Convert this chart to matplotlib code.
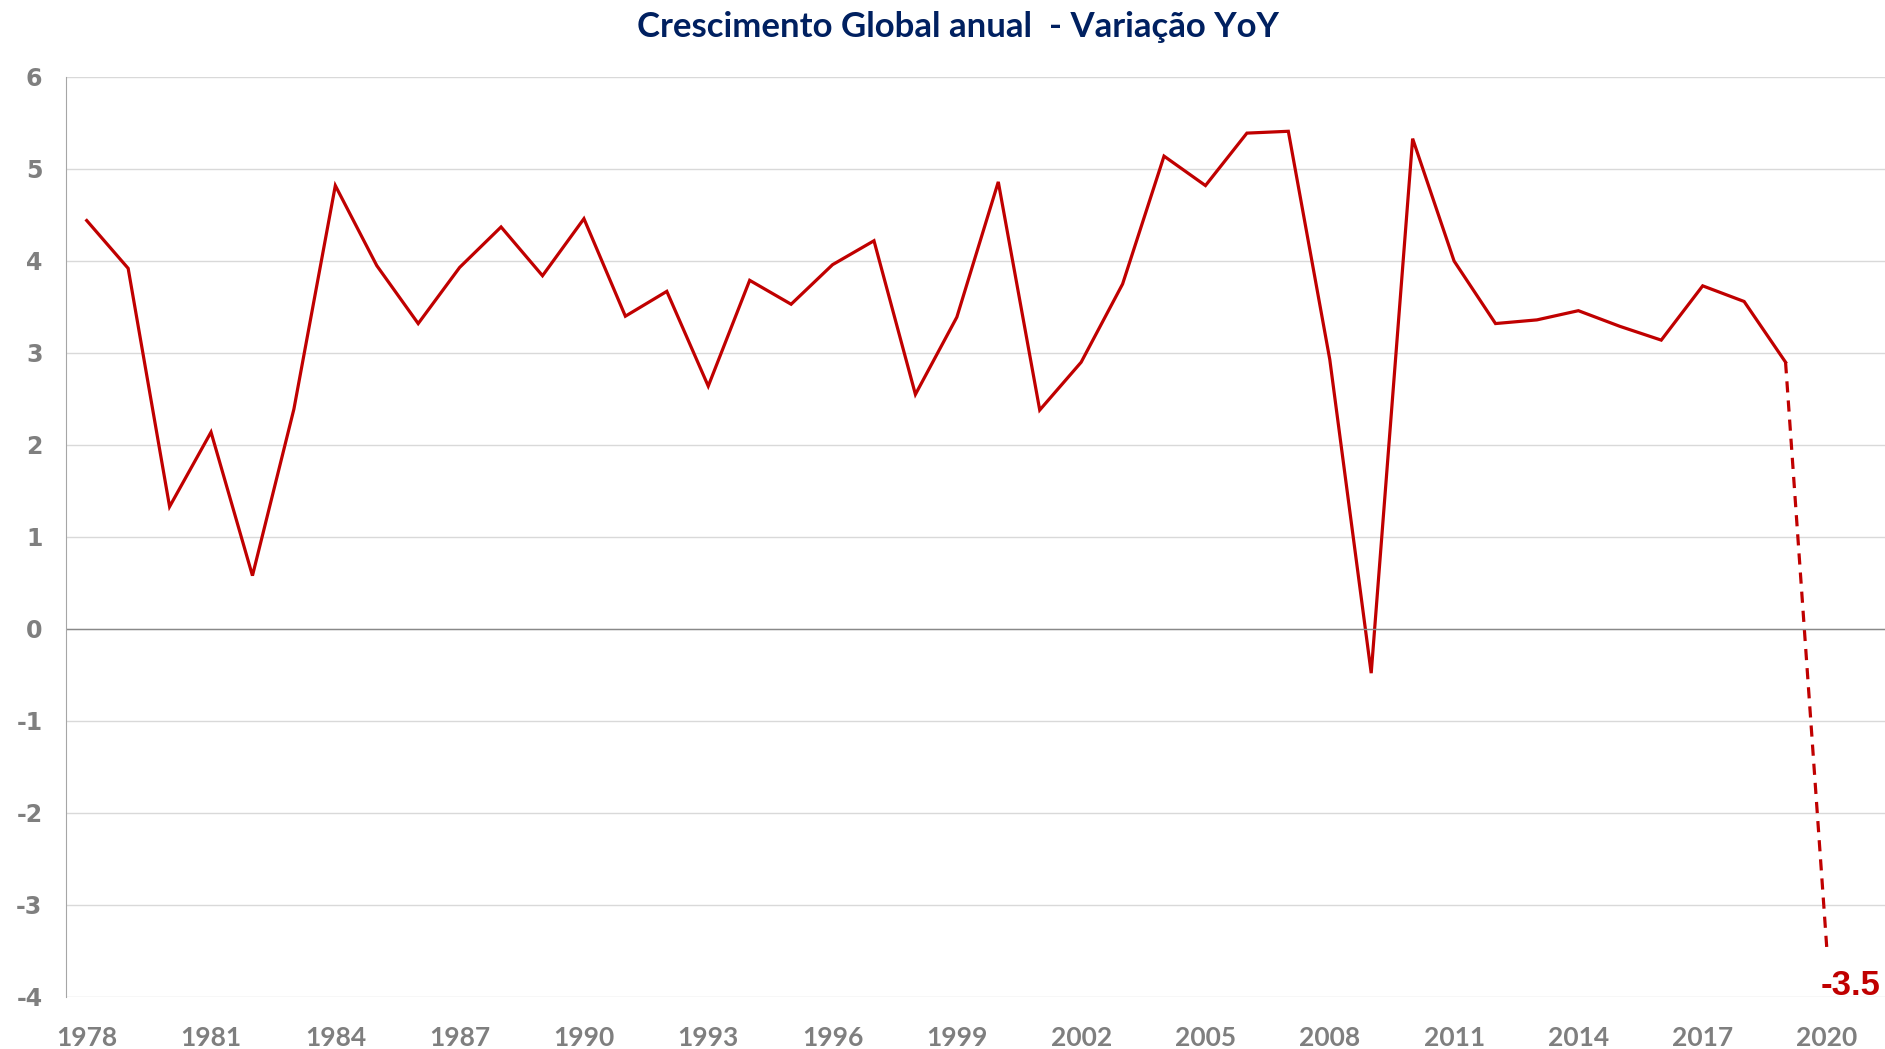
import matplotlib
matplotlib.use("Agg")
import matplotlib.pyplot as plt
import numpy as np

plt.rcParams['axes.unicode_minus'] = False

# dados (crescimento global anual, %)
anos = list(range(1978, 2020))
cresc = [4.44, 3.92, 1.33, 2.14, 0.58, 2.39, 4.82, 3.95, 3.32, 3.93,
         4.37, 3.84, 4.46, 3.40, 3.67, 2.64, 3.79, 3.53, 3.96, 4.22,
         2.55, 3.39, 4.86, 2.38, 2.90, 3.75, 5.14, 4.82, 5.39, 5.41,
         2.93, -0.48, 5.33, 4.00, 3.32, 3.36, 3.46, 3.29, 3.14, 3.73,
         3.56, 2.90]
proj_anos = [2019, 2020]
proj_vals = [2.90, -3.5]
xticks = list(range(1978, 2021, 3))
yticks = list(range(-4, 7))

vermelho = '#c00000'
cinza = '#7f7f7f'

fig = plt.figure(figsize=(18.85, 10.49), dpi=100)
ax = fig.add_axes([66/1885, 1-997/1049, 1-66/1885, 920/1049])

ax.plot(anos, cresc, color=vermelho, lw=2.3, solid_joinstyle='miter')
ax.plot(proj_anos, proj_vals, color=vermelho, lw=2.3, ls=(0, (3.5, 2.5)))

ax.set_xlim(1977.5, 2021.4)
ax.set_ylim(-4, 6)
ax.set_yticks(yticks)
ax.set_xticks(xticks)
ax.grid(axis='y', color='#d9d9d9', lw=1.0)
ax.axhline(0, color='#898989', lw=1.0)
ax.set_axisbelow(True)

for s in ['top', 'right', 'bottom']:
    ax.spines[s].set_visible(False)
ax.spines['left'].set_color('#a6a6a6')
ax.tick_params(length=0)
ax.tick_params(axis='y', pad=17)
ax.tick_params(axis='x', pad=21)

for t in ax.get_yticklabels():
    t.set_fontfamily('DejaVu Sans')
    t.set_fontweight('bold')
    t.set_fontsize(17)
    t.set_color(cinza)
for t in ax.get_xticklabels():
    t.set_fontfamily(['Liberation Sans Narrow', 'Lato'])
    t.set_fontweight('bold')
    t.set_fontsize(19)
    t.set_color(cinza)

ax.text(proj_anos[-1] - 0.15, proj_vals[-1] - 0.38, '{:.1f}'.format(proj_vals[-1]),
        color=vermelho, fontsize=25, fontweight='bold', family='Liberation Sans',
        ha='left', va='center')

fig.text(0.508, 1-27/1049, 'Crescimento Global anual  - Variação YoY',
         color='#002060', fontsize=25, fontweight='bold', family='Lato',
         ha='center', va='center')

fig.savefig('out.png', dpi=100)
